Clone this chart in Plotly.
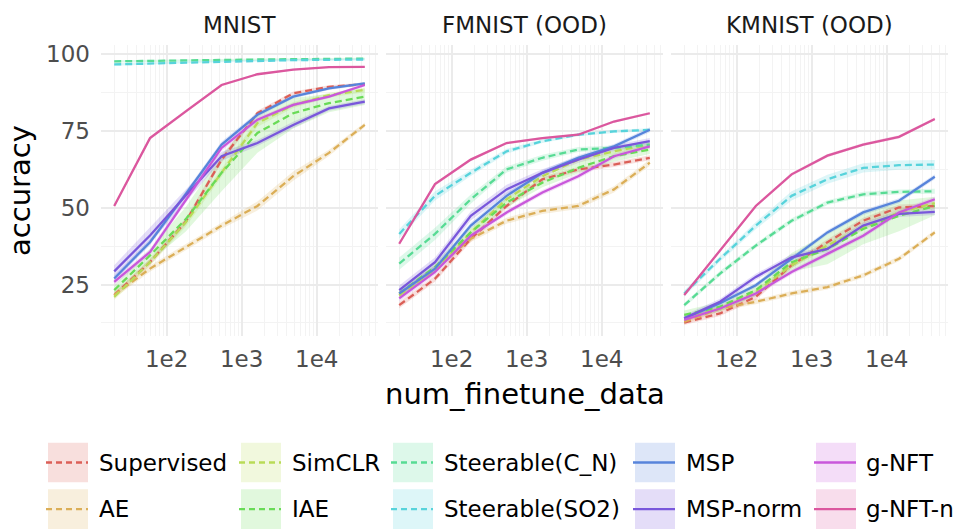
import plotly.graph_objects as go

# ---------------- data ----------------
N_DATA = [20, 60, 180, 540, 1620, 4860, 14580, 43740]
METHODS = ["Supervised", "AE", "SimCLR", "IAE", "Steerable(C_N)", "Steerable(SO2)",
           "MSP", "MSP-norm", "g-NFT", "g-NFT-n"]
COLORS = ["#DB5F57", "#DBAE57", "#B9DB57", "#69DB57", "#57DB94", "#57D3DB",
          "#5784DB", "#7957DB", "#C957DB", "#DB579E"]
DASHED = [True, True, True, True, True, True, False, False, False, False]
PANELS = ["MNIST", "FMNIST (OOD)", "KMNIST (OOD)"]
X_TICKS = [100, 1000, 10000]
X_TICKTEXT = ["1e2", "1e3", "1e4"]
Y_TICKS = [25, 50, 75, 100]

mnist_mean = {
    "Supervised":     [21.6, 32.3, 45.5, 65.7, 80.8, 87.3, 89.4, 90.3],
    "AE":             [21.6, 30.2, 37.2, 44.2, 50.6, 60.3, 67.9, 77.0],
    "SimCLR":         [21.0, 32.3, 45.3, 61.4, 77.6, 83.5, 86.7, 88.4],
    "IAE":            [23.2, 34.5, 46.3, 61.4, 74.4, 80.8, 84.1, 86.2],
    "Steerable(C_N)": [97.7, 97.9, 98.1, 98.2, 98.3, 98.4, 98.5, 98.6],
    "Steerable(SO2)": [96.7, 97.0, 97.4, 97.7, 97.9, 98.1, 98.2, 98.3],
    "MSP":            [27.0, 38.8, 54.5, 70.6, 80.3, 86.2, 88.9, 90.5],
    "MSP-norm":       [29.3, 41.0, 54.0, 66.8, 71.1, 77.0, 82.4, 84.6],
    "g-NFT":          [25.9, 35.6, 52.5, 69.5, 78.7, 83.5, 86.2, 90.0],
    "g-NFT-n":        [50.6, 72.7, 81.4, 90.0, 93.5, 95.0, 95.8, 95.9],
}
mnist_std = {
    "Supervised":     [1.0, 1.0, 1.0, 1.0, 0.8, 0.6, 0.5, 0.5],
    "AE":             [1.0, 1.0, 1.0, 1.0, 1.5, 1.5, 1.0, 0.8],
    "SimCLR":         [1.0, 1.2, 1.5, 1.5, 1.2, 1.0, 0.8, 0.8],
    "IAE":            [1.5, 2.0, 4.0, 6.0, 6.5, 5.0, 3.0, 2.7],
    "Steerable(C_N)": [0.4, 0.4, 0.3, 0.3, 0.3, 0.3, 0.3, 0.3],
    "Steerable(SO2)": [0.4, 0.4, 0.3, 0.3, 0.3, 0.3, 0.3, 0.3],
    "MSP":            [1.0, 1.0, 1.0, 1.0, 0.8, 0.6, 0.5, 0.5],
    "MSP-norm":       [2.0, 2.5, 2.0, 1.5, 1.0, 1.0, 0.8, 0.8],
    "g-NFT":          [1.0, 1.0, 1.0, 1.0, 0.8, 0.6, 0.5, 0.5],
    "g-NFT-n":        [0.5, 0.5, 0.5, 0.4, 0.3, 0.3, 0.3, 0.3],
}
fmnist_mean = {
    "Supervised":     [18.3, 26.9, 39.9, 50.6, 59.3, 62.5, 64.1, 66.3],
    "AE":             [21.6, 30.2, 39.9, 45.8, 49.0, 50.6, 56.0, 64.7],
    "SimCLR":         [21.6, 29.6, 42.0, 52.8, 60.3, 65.7, 68.4, 70.6],
    "IAE":            [22.1, 30.7, 42.0, 51.7, 58.2, 63.0, 66.8, 69.0],
    "Steerable(C_N)": [31.8, 41.5, 52.8, 62.5, 66.3, 69.0, 69.5, 70.6],
    "Steerable(SO2)": [41.5, 53.9, 61.4, 68.4, 71.7, 73.8, 74.9, 75.4],
    "MSP":            [22.1, 30.2, 44.2, 53.9, 61.4, 66.3, 70.0, 75.4],
    "MSP-norm":       [23.2, 32.3, 47.4, 56.0, 61.4, 65.7, 69.5, 71.7],
    "g-NFT":          [20.5, 29.1, 40.9, 48.5, 55.0, 60.3, 66.8, 70.0],
    "g-NFT-n":        [38.3, 57.7, 65.7, 71.1, 72.7, 73.8, 78.1, 80.8],
}
fmnist_std = {
    "Supervised":     [1.0, 1.0, 1.0, 0.8, 0.8, 0.8, 0.8, 0.8],
    "AE":             [1.0, 1.0, 1.0, 1.0, 1.0, 1.0, 1.0, 1.0],
    "SimCLR":         [1.0, 1.0, 1.0, 1.0, 1.0, 1.0, 1.0, 1.0],
    "IAE":            [1.5, 1.5, 1.5, 1.5, 1.5, 1.8, 1.8, 1.5],
    "Steerable(C_N)": [2.0, 2.0, 1.5, 1.0, 1.0, 0.8, 0.8, 0.8],
    "Steerable(SO2)": [1.5, 1.5, 1.0, 0.8, 0.6, 0.5, 0.5, 0.5],
    "MSP":            [1.0, 1.0, 1.0, 1.0, 0.8, 0.8, 0.8, 0.8],
    "MSP-norm":       [1.5, 1.5, 1.5, 1.5, 1.2, 1.0, 1.0, 1.0],
    "g-NFT":          [1.0, 1.0, 1.0, 0.8, 0.8, 0.8, 0.8, 0.8],
    "g-NFT-n":        [0.5, 0.5, 0.5, 0.4, 0.4, 0.4, 0.4, 0.4],
}
kmnist_mean = {
    "Supervised":     [12.6, 15.6, 21.0, 31.3, 38.8, 45.8, 50.1, 50.6],
    "AE":             [12.9, 17.2, 19.4, 22.1, 24.2, 28.0, 33.4, 42.0],
    "SimCLR":         [14.0, 17.2, 22.6, 31.3, 37.7, 43.6, 48.5, 51.5],
    "IAE":            [15.1, 17.8, 23.2, 32.3, 36.6, 43.1, 47.4, 50.6],
    "Steerable(C_N)": [18.3, 28.6, 37.7, 45.8, 51.7, 54.4, 55.2, 55.4],
    "Steerable(SO2)": [22.1, 33.4, 44.2, 53.9, 59.3, 63.0, 63.9, 64.1],
    "MSP":            [14.0, 18.9, 24.8, 33.4, 42.0, 48.5, 52.3, 60.1],
    "MSP-norm":       [14.0, 19.4, 27.5, 33.9, 36.6, 44.2, 48.0, 48.7],
    "g-NFT":          [13.5, 17.2, 22.1, 29.1, 35.0, 40.9, 48.5, 52.8],
    "g-NFT-n":        [21.6, 36.1, 50.6, 60.9, 67.0, 70.6, 73.1, 78.9],
}
kmnist_std = {
    "Supervised":     [0.8, 0.8, 1.0, 1.0, 1.0, 1.0, 1.0, 1.0],
    "AE":             [0.8, 0.8, 0.8, 0.8, 0.8, 0.8, 0.8, 0.8],
    "SimCLR":         [1.0, 1.0, 1.0, 1.0, 1.0, 1.0, 1.0, 1.0],
    "IAE":            [1.5, 1.5, 2.0, 3.0, 5.0, 5.0, 5.0, 3.0],
    "Steerable(C_N)": [0.8, 0.8, 0.8, 0.8, 0.8, 0.8, 0.8, 0.8],
    "Steerable(SO2)": [1.0, 1.0, 1.2, 1.5, 1.5, 1.5, 1.5, 1.5],
    "MSP":            [0.8, 0.8, 0.8, 0.8, 0.8, 0.8, 0.8, 0.8],
    "MSP-norm":       [1.0, 1.0, 1.0, 1.0, 1.0, 1.0, 1.0, 1.0],
    "g-NFT":          [0.8, 0.8, 0.8, 0.8, 0.8, 0.8, 0.8, 0.8],
    "g-NFT-n":        [0.5, 0.5, 0.5, 0.5, 0.5, 0.5, 0.5, 0.5],
}
PANEL_MEANS = [mnist_mean, fmnist_mean, kmnist_mean]
PANEL_STDS = [mnist_std, fmnist_std, kmnist_std]

# ---------------- styling / layout ----------------
W, H = 961, 531
FONT = "DejaVu Sans"
PANEL_X_PX = [(101, 378), (386, 663), (671, 948)]
PANEL_Y_PX = (41.7, 335.0)
X_RANGE = [1.125, 4.817]
Y_RANGE = [8.1, 102.9]
GRID = "#EBEBEB"
GRID_MINOR = "#F3F3F3"
DASH = "7px,4px"
LW = 2.3


def rgba(hexc, a):
    h = hexc.lstrip("#")
    return "rgba(%d,%d,%d,%.3f)" % (int(h[0:2], 16), int(h[2:4], 16), int(h[4:6], 16), a)


fig = go.Figure()

for p in range(3):
    xa = "x" if p == 0 else "x%d" % (p + 1)
    ya = "y" if p == 0 else "y%d" % (p + 1)
    means, stds = PANEL_MEANS[p], PANEL_STDS[p]
    # ribbons first
    for m, c in zip(METHODS, COLORS):
        up = [a + b for a, b in zip(means[m], stds[m])]
        lo = [a - b for a, b in zip(means[m], stds[m])]
        fig.add_trace(go.Scatter(
            x=N_DATA + N_DATA[::-1], y=up + lo[::-1], xaxis=xa, yaxis=ya,
            fill="toself", fillcolor=rgba(c, 0.2), line=dict(width=0),
            mode="lines", showlegend=False, hoverinfo="skip"))
    # lines
    for m, c, d in zip(METHODS, COLORS, DASHED):
        fig.add_trace(go.Scatter(
            x=N_DATA, y=means[m], xaxis=xa, yaxis=ya, mode="lines", name=m,
            line=dict(color=c, width=LW, dash=DASH if d else "solid"),
            showlegend=False))

layout = dict(
    width=W, height=H, margin=dict(l=0, r=0, t=0, b=0),
    paper_bgcolor="white", plot_bgcolor="white",
    font=dict(family=FONT, size=23, color="#4D4D4D"),
    showlegend=False,
)
y0 = 1 - PANEL_Y_PX[1] / H
y1 = 1 - PANEL_Y_PX[0] / H
for p in range(3):
    sfx = "" if p == 0 else str(p + 1)
    x0 = PANEL_X_PX[p][0] / W
    x1 = PANEL_X_PX[p][1] / W
    layout["xaxis" + sfx] = dict(
        domain=[x0, x1], type="log", range=X_RANGE,
        tickvals=X_TICKS, ticktext=X_TICKTEXT, showgrid=True, gridcolor=GRID,
        gridwidth=2.3, zeroline=False, showline=False, ticks="",
        ticklabelstandoff=7,
        tickfont=dict(size=23, color="#4D4D4D", family=FONT),
        minor=dict(dtick="D1", showgrid=True, gridcolor=GRID_MINOR, gridwidth=1.2),
        anchor="y" + sfx, fixedrange=True)
    layout["yaxis" + sfx] = dict(
        domain=[y0, y1], range=Y_RANGE, tickvals=Y_TICKS,
        showgrid=True, gridcolor=GRID, gridwidth=2.3, zeroline=False,
        showline=False, ticks="", showticklabels=(p == 0),
        ticklabelstandoff=10,
        tickfont=dict(size=23, color="#4D4D4D", family=FONT),
        minor=dict(tickvals=[12.5, 37.5, 62.5, 87.5], showgrid=True,
                   gridcolor=GRID_MINOR, gridwidth=1.3),
        anchor="x" + sfx, fixedrange=True)

annotations = []
shapes = []
# facet titles
for p, t in enumerate(PANELS):
    cx = (PANEL_X_PX[p][0] + PANEL_X_PX[p][1]) / 2 / W
    annotations.append(dict(text=t, x=cx, y=1 - 21 / H, xref="paper", yref="paper",
                            xanchor="center", yanchor="middle", showarrow=False,
                            font=dict(size=23, color="#1A1A1A", family=FONT)))
# axis titles
annotations.append(dict(text="num_finetune_data", x=(PANEL_X_PX[0][0] + PANEL_X_PX[2][1]) / 2 / W,
                        y=1 - 393 / H, xref="paper", yref="paper", xanchor="center",
                        yanchor="middle", showarrow=False,
                        font=dict(size=29, color="black", family=FONT)))
annotations.append(dict(text="accuracy", x=20 / W, y=1 - (PANEL_Y_PX[0] + PANEL_Y_PX[1]) / 2 / H,
                        xref="paper", yref="paper", xanchor="center", yanchor="middle",
                        textangle=-90, showarrow=False,
                        font=dict(size=29, color="black", family=FONT)))

# manual legend (column-major, 2 rows)
LEG_BOX_X = [48, 241, 393, 635, 816]
LEG_TEXT_X = [97, 290, 442, 684, 864]
LEG_ROW_Y = [462, 509]
BOX = 40
for i, (m, c, d) in enumerate(zip(METHODS, COLORS, DASHED)):
    col, row = i // 2, i % 2
    bx, cy = LEG_BOX_X[col], LEG_ROW_Y[row]
    shapes.append(dict(type="rect", xref="paper", yref="paper",
                       x0=bx / W, x1=(bx + BOX) / W,
                       y0=1 - (cy + BOX / 2) / H, y1=1 - (cy - BOX / 2) / H,
                       fillcolor=rgba(c, 0.2), line=dict(width=0), layer="above"))
    shapes.append(dict(type="line", xref="paper", yref="paper",
                       x0=(bx - 2) / W, x1=(bx + BOX) / W, y0=1 - cy / H, y1=1 - cy / H,
                       line=dict(color=c, width=LW, dash="6px,4px" if d else "solid"),
                       layer="above"))
    annotations.append(dict(text=m, x=LEG_TEXT_X[col] / W, y=1 - cy / H,
                            xref="paper", yref="paper", xanchor="left", yanchor="middle",
                            showarrow=False, font=dict(size=23, color="black", family=FONT)))

layout["annotations"] = annotations
layout["shapes"] = shapes
fig.update_layout(**layout)
fig.write_html("out.html")
